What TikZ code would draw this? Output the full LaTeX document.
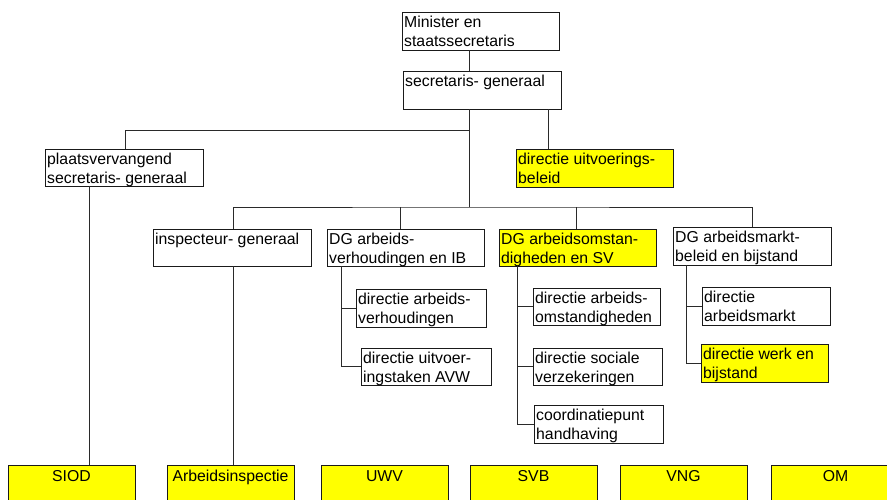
\documentclass[tikz,border=0pt]{standalone}
\usepackage{fontspec}
\setmainfont{Liberation Sans}
\definecolor{orgyellow}{HTML}{FFFF00}
\definecolor{boxline}{HTML}{1A1A1A}
\definecolor{connline}{HTML}{2A2A2A}
\newcommand\orgfont{\fontsize{15.8}{19}\selectfont}
% \orgbox{name}{x1}{y1}{x2}{y2}{extra style}{text}: box with its text at the top left
\newcommand\orgbox[7]{%
  \node[box,#6,minimum width={(#4-#2)*1pt},minimum height={(#5-#3)*1pt},
        label={[boxtext]north west:{\strut #7}}] (#1) at (#2,#3) {};}
% \unitbox{name}{x1}{x2}{text}: bottom row box with centred text
\newcommand\unitbox[4]{%
  \node[box,yel,minimum width={(#3-#2)*1pt},minimum height=60pt,
        label={[unittext]north:{\strut #4}}] (#1) at (#2,465) {};}
\begin{document}
\begin{tikzpicture}[x=1pt,y=-1pt,
  box/.style={draw=boxline,line width=0.9pt,inner sep=0pt,outer sep=0pt,anchor=north west,fill=white},
  yel/.style={fill=orgyellow},
  boxtext/.style={anchor=north west,inner sep=0pt,align=left,font=\orgfont,xshift=2pt,yshift=-2pt},
  unittext/.style={anchor=north,inner sep=0pt,font=\orgfont,yshift=-2.5pt},
  conn/.style={draw=connline,line width=0.9pt}]
\useasboundingbox (0,0) rectangle (887,499);
\clip (0,0) rectangle (887,499);

% top levels
\orgbox{min}{402}{12}{559}{50}{}{Minister en\\staatssecretaris}
\orgbox{sg}{403}{71}{561}{109}{}{secretaris- generaal}
\orgbox{pv}{45}{149}{203}{186}{}{plaatsvervangend\\secretaris- generaal}
\orgbox{du}{516}{149}{673}{187}{yel}{directie uitvoerings-\\beleid}

% directors-general
\orgbox{ig}{153}{229}{311}{266}{}{inspecteur- generaal}
\orgbox{dgv}{327}{229}{484}{266}{}{DG arbeids-\\verhoudingen en IB}
\orgbox{dgo}{499}{229}{656}{266}{yel}{DG arbeidsomstan-\\digheden en SV}
\orgbox{dgm}{673}{227}{831}{265}{}{DG arbeidsmarkt-\\beleid en bijstand}

% directorates
\orgbox{dav}{356}{289}{486}{327}{}{directie arbeids-\\verhoudingen}
\orgbox{duv}{361}{348}{491}{385}{}{directie uitvoer-\\ingstaken AVW}
\orgbox{dao}{533}{288}{660}{325}{}{directie arbeids-\\omstandigheden}
\orgbox{dsv}{533}{348}{662}{385}{}{directie sociale\\verzekeringen}
\orgbox{cph}{534}{405}{663}{443}{}{coordinatiepunt\\handhaving}
\orgbox{dam}{702}{287}{830}{325}{}{directie\\arbeidsmarkt}
\orgbox{dwb}{701}{344}{828}{382}{yel}{directie werk en\\bijstand}

% executing bodies
\unitbox{siod}{8}{135}{SIOD}
\unitbox{ai}{167}{294}{Arbeidsinspectie}
\unitbox{uwv}{321}{448}{UWV}
\unitbox{svb}{470}{597}{SVB}
\unitbox{vng}{620}{747}{VNG}
\unitbox{om}{771}{900}{OM}

% connector positions
\coordinate (trunk) at (469,0);
\coordinate (bus1) at (469,130);
\coordinate (bus2) at (469,207);
\coordinate (xpv) at (125,0);
\coordinate (xdu) at (548,0);
\coordinate (xsiod) at (89,0);
\coordinate (xig) at (233,0);
\coordinate (xdgv) at (400,0);
\coordinate (xdgo) at (576,0);
\coordinate (xdgm) at (752,0);
\coordinate (xv) at (341,0);
\coordinate (xo) at (517,0);
\coordinate (xm) at (686,0);

% connectors
\draw[conn] (min.south -| trunk) -- (sg.north -| trunk);
\draw[conn] (sg.south -| trunk) -- (bus2);
\draw[conn] (bus1) -| (pv.north -| xpv);
\draw[conn] (sg.south -| xdu) -- (du.north -| xdu);
\draw[conn] (ig.north -| xig) |- (bus2) -| (dgm.north -| xdgm);
\draw[conn] (xdgv |- bus2) -- (dgv.north -| xdgv);
\draw[conn] (xdgo |- bus2) -- (dgo.north -| xdgo);
\draw[conn] (pv.south -| xsiod) -- (siod.north -| xsiod);
\draw[conn] (ig.south -| xig) -- (ai.north -| xig);
\draw[conn] (dgv.south -| xv) |- (duv.west);
\draw[conn] (xv |- dav.west) -- (dav.west);
\draw[conn] (dgo.south -| xo) |- (cph.west);
\draw[conn] (xo |- dao.west) -- (dao.west);
\draw[conn] (xo |- dsv.west) -- (dsv.west);
\draw[conn] (dgm.south -| xm) |- (dwb.west);
\draw[conn] (xm |- dam.west) -- (dam.west);
\end{tikzpicture}
\end{document}
